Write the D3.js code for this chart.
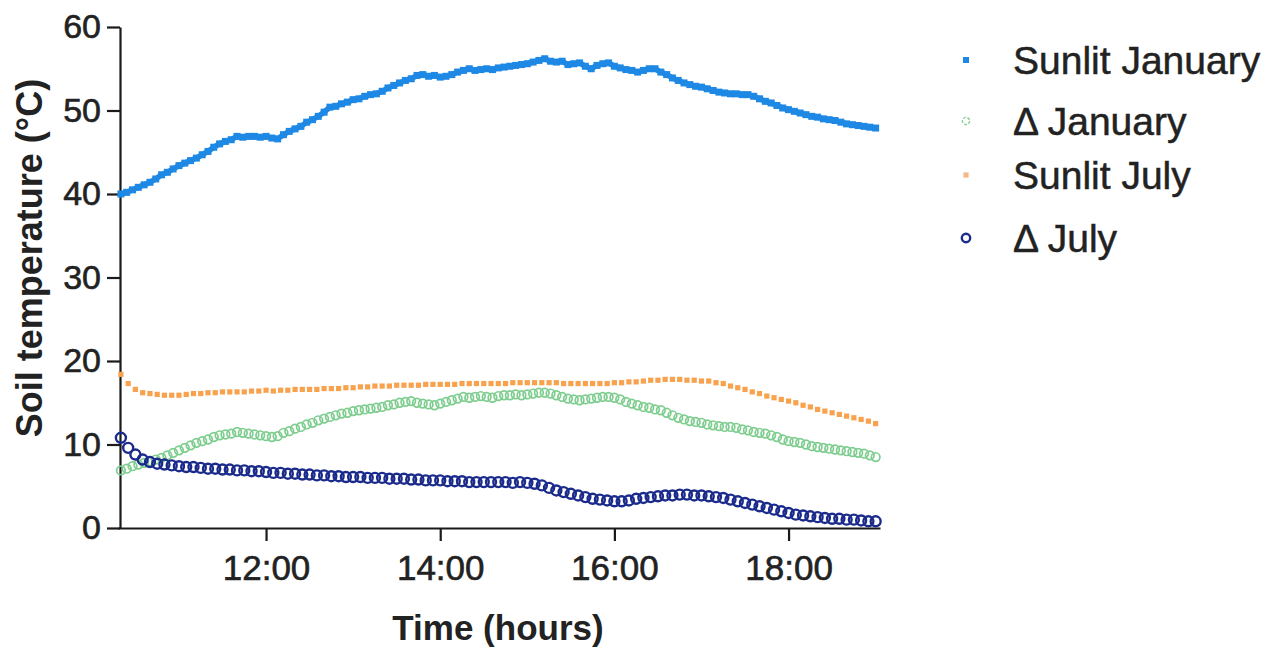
<!DOCTYPE html>
<html>
<head>
<meta charset="utf-8">
<script src="https://cdn.jsdelivr.net/npm/d3@7"></script>
<style>
  html, body { margin: 0; padding: 0; background: #fff; }
  svg { display: block; font-family: "Liberation Sans", Arial, sans-serif; }
</style>
</head>
<body>
<svg id="chart" width="1282" height="648"></svg>
<script>
// ---- Data ----
const startHour = 10 + 20 / 60;   // first reading at 10:20
const janStepMin = 4;             // January readings every 4 minutes
const julStepMin = 5;             // July readings every 5 minutes

const sunlitJanuary = [
  40.0,40.2,40.5,40.8,41.1,41.4,41.8,42.3,42.6,43.0,
  43.4,43.7,44.0,44.3,44.7,45.1,45.6,46.0,46.3,46.5,
  46.9,46.8,46.9,46.9,46.8,46.9,46.7,46.6,47.1,47.5,
  47.8,48.1,48.6,48.9,49.3,49.8,50.4,50.5,50.8,51.0,
  51.3,51.4,51.7,51.9,52.0,52.3,52.7,53.0,53.3,53.6,
  53.8,54.2,54.3,54.1,54.2,54.0,54.1,54.3,54.6,54.8,
  55.0,54.8,54.9,55.0,54.9,55.1,55.2,55.3,55.4,55.5,
  55.6,55.8,56.0,56.2,55.9,55.8,55.9,55.5,55.6,55.7,
  55.3,55.0,55.4,55.6,55.7,55.3,55.1,54.9,54.8,54.6,
  54.8,55.0,55.0,54.6,54.3,53.9,53.6,53.3,53.1,52.9,
  52.8,52.6,52.4,52.2,52.1,52.0,52.0,51.9,51.9,51.7,
  51.4,51.1,50.9,50.6,50.3,50.1,49.9,49.7,49.5,49.3,
  49.2,49.0,48.9,48.8,48.6,48.4,48.3,48.2,48.1,48.0,
  47.9
];

const deltaJanuary = [
  6.9,7.1,7.4,7.6,7.8,8.0,8.2,8.4,8.7,9.0,
  9.3,9.6,9.9,10.2,10.4,10.6,10.9,11.1,11.2,11.3,
  11.5,11.4,11.3,11.2,11.1,11.0,10.9,11.0,11.4,11.6,
  11.9,12.1,12.4,12.6,12.9,13.1,13.3,13.5,13.7,13.8,
  14.0,14.1,14.2,14.3,14.4,14.5,14.7,14.8,15.0,15.1,
  15.2,15.0,14.9,14.8,14.7,14.9,15.1,15.3,15.5,15.7,
  15.6,15.7,15.8,15.7,15.6,15.8,15.9,15.9,16.0,15.9,
  16.0,16.1,16.2,16.2,16.1,15.9,15.7,15.5,15.4,15.3,
  15.4,15.5,15.6,15.7,15.7,15.6,15.4,15.1,14.9,14.7,
  14.5,14.4,14.2,14.1,13.8,13.5,13.2,13.0,12.8,12.7,
  12.6,12.4,12.3,12.2,12.1,12.1,12.0,11.8,11.7,11.5,
  11.4,11.3,11.1,10.9,10.6,10.4,10.3,10.2,10.0,9.8,
  9.7,9.6,9.5,9.4,9.3,9.2,9.1,9.0,8.9,8.7,
  8.5
];

const sunlitJuly = [
  18.4,17.3,16.6,16.2,16.1,16.0,15.9,15.9,15.9,16.0,
  16.1,16.1,16.2,16.2,16.3,16.3,16.3,16.3,16.4,16.4,
  16.5,16.4,16.5,16.5,16.6,16.6,16.6,16.6,16.7,16.7,
  16.7,16.8,16.8,16.9,16.9,17.0,17.0,17.0,17.1,17.1,
  17.1,17.1,17.2,17.2,17.2,17.2,17.2,17.3,17.3,17.3,
  17.3,17.3,17.3,17.3,17.4,17.4,17.4,17.4,17.4,17.4,
  17.4,17.3,17.3,17.3,17.3,17.3,17.3,17.3,17.4,17.4,
  17.5,17.5,17.6,17.7,17.7,17.8,17.8,17.8,17.7,17.7,
  17.6,17.6,17.4,17.3,17.0,16.8,16.6,16.3,16.1,15.8,
  15.6,15.4,15.2,15.0,14.7,14.5,14.2,14.0,13.8,13.6,
  13.4,13.2,13.0,12.8,12.5
];

const deltaJuly = [
  10.8,9.6,8.8,8.2,7.9,7.7,7.6,7.5,7.4,7.3,
  7.3,7.2,7.1,7.1,7.0,7.0,6.9,6.9,6.8,6.8,
  6.7,6.6,6.6,6.5,6.5,6.4,6.4,6.3,6.3,6.2,
  6.2,6.1,6.1,6.1,6.0,6.0,6.0,5.9,5.9,5.9,
  5.8,5.8,5.7,5.7,5.7,5.6,5.6,5.6,5.5,5.5,
  5.5,5.5,5.5,5.5,5.4,5.5,5.4,5.3,5.1,4.8,
  4.5,4.3,4.1,3.9,3.7,3.5,3.4,3.3,3.2,3.2,
  3.3,3.5,3.6,3.7,3.8,3.9,3.9,4.0,4.0,3.9,
  3.9,3.8,3.7,3.6,3.4,3.2,3.0,2.8,2.6,2.4,
  2.2,2.0,1.8,1.6,1.5,1.4,1.3,1.2,1.1,1.1,
  1.0,1.0,0.9,0.8,0.8
];

const yTicks = [0, 10, 20, 30, 40, 50, 60];
const xTicks = [12, 14, 16, 18];
const seriesNames = ["Sunlit January", "\u0394 January", "Sunlit July", "\u0394 July"];

// ---- Drawing ----
const svg = d3.select("#chart");
const x = d3.scaleLinear().domain([10.3, 19.05]).range([118, 880]);
const y = d3.scaleLinear().domain([0, 60]).range([528, 27]);

const toPoints = (vals, stepMin) => vals.map((v, i) => ({ t: startHour + i * stepMin / 60, v }));

const colors = {
  blue: "#1e88e5",
  green: "#7dcd8e",
  orange: "#f8a24e",
  navy: "#1b2b8c"
};
const ink = "#222";

// axes
const yAxis = svg.append("g").attr("transform", "translate(120,0)")
  .call(d3.axisLeft(y).tickValues(yTicks).tickSize(13).tickSizeOuter(0).tickPadding(6));
const xAxis = svg.append("g").attr("transform", "translate(0,528)")
  .call(d3.axisBottom(x).tickValues(xTicks).tickFormat(d => d + ":00").tickSize(13).tickSizeOuter(0).tickPadding(9));

[yAxis, xAxis].forEach(a => {
  a.selectAll("path.domain").attr("stroke", "#1a1a1a").attr("stroke-width", 2.2);
  a.selectAll(".tick line").attr("stroke", "#1a1a1a").attr("stroke-width", 2.2);
  a.selectAll(".tick text").attr("fill", ink)
    .attr("stroke", ink).attr("stroke-width", 0.6)
    .style("font-family", "'Liberation Sans', Arial, sans-serif");
});
yAxis.selectAll(".tick text").style("font-size", "34px");
xAxis.selectAll(".tick text").style("font-size", "35px").attr("dy", "0.85em");

// axis titles
svg.append("text")
  .attr("transform", "translate(42,258) rotate(-90)")
  .attr("text-anchor", "middle")
  .style("font-size", "36px").style("font-weight", "bold").attr("fill", ink)
  .text("Soil temperature (\u00B0C)");
svg.append("text")
  .attr("x", 498).attr("y", 640)
  .attr("text-anchor", "middle")
  .style("font-size", "35px").style("font-weight", "bold").attr("fill", ink)
  .text("Time (hours)");

// series
const plot = svg.append("g");
const janPts = toPoints(sunlitJanuary, janStepMin);

plot.append("path")
  .datum(janPts)
  .attr("d", d3.line().x(d => x(d.t)).y(d => y(d.v)))
  .attr("fill", "none").attr("stroke", colors.blue).attr("stroke-width", 5.5)
  .attr("stroke-linejoin", "round");

plot.append("g").selectAll("rect")
  .data(janPts).join("rect")
  .attr("x", d => x(d.t) - 3.5).attr("y", d => y(d.v) - 3.5)
  .attr("width", 7).attr("height", 7)
  .attr("fill", colors.blue);

plot.append("g").selectAll("circle")
  .data(toPoints(deltaJanuary, janStepMin)).join("circle")
  .attr("cx", d => x(d.t)).attr("cy", d => y(d.v)).attr("r", 4.3)
  .attr("fill", "none").attr("stroke", colors.green).attr("stroke-width", 1.7);

plot.append("g").selectAll("rect")
  .data(toPoints(sunlitJuly, julStepMin)).join("rect")
  .attr("x", d => x(d.t) - 2.6).attr("y", d => y(d.v) - 2.6)
  .attr("width", 5.2).attr("height", 5.2)
  .attr("fill", colors.orange);

plot.append("g").selectAll("circle")
  .data(toPoints(deltaJuly, julStepMin)).join("circle")
  .attr("cx", d => x(d.t)).attr("cy", d => y(d.v)).attr("r", 5)
  .attr("fill", "none").attr("stroke", colors.navy).attr("stroke-width", 2.4);

// legend
const legendRows = [60, 121, 175, 238];
const legend = svg.append("g");
seriesNames.forEach((name, i) => {
  const cy = legendRows[i];
  const mx = 966;
  if (i === 0) {
    legend.append("rect").attr("x", mx - 3).attr("y", cy - 3).attr("width", 6).attr("height", 6).attr("fill", colors.blue);
  } else if (i === 1) {
    legend.append("circle").attr("cx", mx).attr("cy", cy).attr("r", 3.6)
      .attr("fill", "none").attr("stroke", colors.green).attr("stroke-width", 1.3).attr("stroke-dasharray", "3,1.5");
  } else if (i === 2) {
    legend.append("rect").attr("x", mx - 2.6).attr("y", cy - 2.6).attr("width", 5.2).attr("height", 5.2).attr("fill", "#f4b98a");
  } else {
    legend.append("circle").attr("cx", mx).attr("cy", cy).attr("r", 4.2)
      .attr("fill", "none").attr("stroke", colors.navy).attr("stroke-width", 2.4);
  }
  legend.append("text").attr("x", 1013).attr("y", cy).attr("dy", "0.36em")
    .style("font-size", "39px").attr("fill", ink)
    .attr("stroke", ink).attr("stroke-width", 0.5)
    .text(name);
});
</script>
</body>
</html>
